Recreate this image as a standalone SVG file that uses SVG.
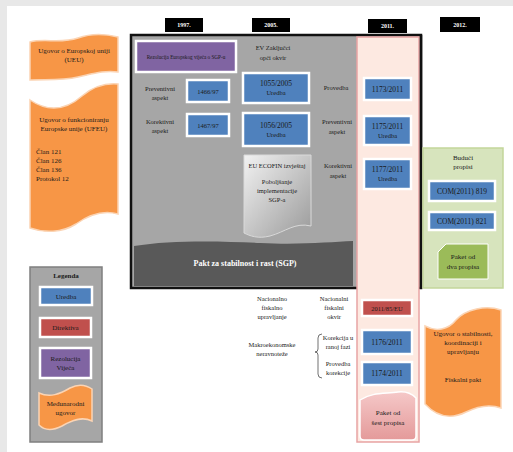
<svg xmlns="http://www.w3.org/2000/svg" width="513" height="452" viewBox="0 0 513 452">
<defs>
<style>
text{font-family:"Liberation Serif","DejaVu Serif",serif;font-size:6.5px;fill:#1a1a1a;text-anchor:middle}
.w{fill:#ffffff}
.yr{fill:#000}
.yt{fill:#fff;font-size:6px;font-weight:bold}
.bt{font-size:7.5px}
.blue{fill:#4f81bd;stroke:#ffffff;stroke-width:2.5}
.red{fill:#c0504d;stroke:#ffffff;stroke-width:2.5}
.purple{fill:#8064a2;stroke:#ffffff;stroke-width:2.5}
.orange{fill:#f79646;stroke:#fbd4b4;stroke-width:1.5}
.o{font-size:7px}
</style>
<linearGradient id="doc" x1="0" y1="0" x2="1" y2="1">
<stop offset="0" stop-color="#f2f2f2"/><stop offset="1" stop-color="#9a9a9a"/>
</linearGradient>
<linearGradient id="pinkg" x1="0" y1="0" x2="0" y2="1">
<stop offset="0" stop-color="#f5c8c8"/><stop offset="1" stop-color="#e49a9a"/>
</linearGradient>
</defs>
<rect x="0" y="0" width="513" height="452" fill="#e8e8e8"/>
<rect x="7" y="6" width="506" height="446" fill="#ffffff"/>

<g id="years">
<rect class="yr" x="165" y="18" width="38" height="14"/><text class="yt" x="184" y="27">1997.</text>
<rect class="yr" x="252" y="18" width="38" height="14"/><text class="yt" x="271" y="27">2005.</text>
<rect class="yr" x="368" y="19" width="39" height="14"/><text class="yt" x="387.5" y="28">2011.</text>
<rect class="yr" x="440" y="17" width="40" height="15"/><text class="yt" x="460" y="26.5">2012.</text>
</g>

<g id="main-box">
<rect x="131" y="35" width="290" height="253" fill="#a6a6a6" stroke="#111" stroke-width="2.5"/>
</g>

<g id="six-pack-column">
<rect x="357" y="37" width="62" height="405" fill="#fde9e1" stroke="#e8a4a4" stroke-width="1.5"/>
<line x1="421" y1="35" x2="421" y2="289" stroke="#111" stroke-width="2.5"/>
</g>

<g id="sgp-band">
<path d="M134,246 C170,240 220,241 260,243 C300,245 330,242 353,241 L353,286 L134,286 Z" fill="#595959"/>
<text class="w" x="245" y="266" style="font-size:8px;font-weight:bold">Pakt za stabilnost i rast (SGP)</text>
</g>

<g id="resolution">
<rect class="purple" x="136" y="41" width="100" height="31"/>
<text x="186" y="58.5" style="font-size:5.2px">Rezolucija Europskog vijeća o SGP-u</text>
</g>

<g id="ev-label">
<text x="273" y="50">EV Zaključci</text>
<text x="273" y="60">opći okvir</text>
</g>

<g id="r1466">
<rect class="blue" x="187" y="80" width="42" height="22"/>
<text x="208" y="93.5">1466/97</text>
<text x="160" y="91">Preventivni</text><text x="160" y="100">aspekt</text>
</g>
<g id="r1467">
<rect class="blue" x="187" y="114" width="42" height="22"/>
<text x="208" y="127.5">1467/97</text>
<text x="160" y="124">Korektivni</text><text x="160" y="133">aspekt</text>
</g>

<g id="r1055">
<rect class="blue" x="243" y="73" width="66" height="30"/>
<text class="bt" x="276" y="86">1055/2005</text><text x="276" y="95">Uredba</text>
</g>
<g id="r1056">
<rect class="blue" x="243" y="113" width="66" height="33"/>
<text class="bt" x="276" y="128">1056/2005</text><text x="276" y="137">Uredba</text>
</g>

<g id="ecofin">
<path d="M244,155 L311,155 L311,226 C295,222 285,232 270,236 C258,239 250,236 244,233 Z" fill="url(#doc)" stroke="#d9d9d9" stroke-width="1"/>
<text x="277" y="168">EU ECOFIN izvještaj</text>
<text x="277" y="184">Poboljšanje</text>
<text x="277" y="193">implementacije</text>
<text x="277" y="202">SGP-a</text>
</g>

<g id="labels-2011">
<text x="336" y="90">Provedba</text>
<text x="337" y="124">Preventivni</text><text x="337" y="134">aspekt</text>
<text x="338" y="168">Korektivni</text><text x="338" y="178">aspekt</text>
</g>

<g id="r1173">
<rect class="blue" x="364" y="78" width="47" height="22"/>
<text class="bt" x="387.5" y="91.5">1173/2011</text>
</g>
<g id="r1175">
<rect class="blue" x="364" y="116" width="47" height="29"/>
<text class="bt" x="387.5" y="129">1175/2011</text><text x="387.5" y="138">Uredba</text>
</g>
<g id="r1177">
<rect class="blue" x="364" y="159" width="47" height="30"/>
<text class="bt" x="387.5" y="172">1177/2011</text><text x="387.5" y="181">Uredba</text>
</g>

<g id="d201185">
<rect class="red" x="362" y="300" width="50" height="16"/>
<text x="387" y="310.5">2011/85/EU</text>
</g>
<g id="r1176">
<rect class="blue" x="362" y="330" width="50" height="24"/>
<text class="bt" x="387" y="344.5">1176/2011</text>
</g>
<g id="r1174">
<rect class="blue" x="362" y="362" width="50" height="23"/>
<text class="bt" x="387" y="376">1174/2011</text>
</g>
<g id="six-pack">
<path d="M360,400 C372,392 386,394 398,392 C406,391 412,394 416,398 L416,436 Q416,440 412,440 L364,440 Q360,440 360,436 Z" fill="url(#pinkg)" stroke="#ffffff" stroke-width="1.5"/>
<text class="o" x="388" y="415">Paket od</text><text class="o" x="388" y="425">šest propisa</text>
</g>

<g id="bottom-labels">
<text x="272" y="301">Nacionalno</text><text x="272" y="310">fiskalno</text><text x="272" y="319">upravljanje</text>
<text x="334" y="301">Nacionalni</text><text x="334" y="310">fiskalni</text><text x="334" y="319">okvir</text>
<text x="272" y="347">Makroekonomske</text><text x="272" y="356">neravnoteže</text>
<text x="338" y="340">Korekcija u</text><text x="338" y="349">ranoj fazi</text>
<text x="338" y="366">Provedba</text><text x="338" y="375">korekcije</text>
</g>
<g id="connectors">
<path d="M322,334 Q318,334 318,338 L318,349 Q318,352 315,352 Q318,352 318,355 L318,374 Q318,378 322,378" fill="none" stroke="#333" stroke-width="0.7"/>
</g>

<g id="two-pack">
<rect x="423" y="148" width="80" height="140" fill="#d7e4bd" stroke="#c3d69b" stroke-width="1.5"/>
<text class="o" x="463" y="160">Budući</text><text class="o" x="463" y="169">propisi</text>
<rect class="blue" x="429" y="181" width="66" height="20"/>
<text class="bt" x="462" y="193.5">COM(2011) 819</text>
<rect class="blue" x="429" y="212" width="66" height="18"/>
<text class="bt" x="462" y="223.5">COM(2011) 821</text>
<path d="M446,244 L488,244 L488,279 L438,279 L438,252 Z" fill="#9bbb59" stroke="#ffffff" stroke-width="1"/>
<text class="o" x="463" y="259">Paket od</text><text class="o" x="463" y="269">dva propisa</text>
</g>

<g id="ueu">
<path d="M30,42 C45,38 60,44 78,38 C92,33 106,34 118,37 L118,72 C104,70 92,74 78,77 C60,81 44,79 30,80 Z" class="orange"/>
<text class="o" x="74" y="53">Ugovor o Europskoj uniji</text>
<text class="o" x="74" y="62">(UEU)</text>
</g>

<g id="ufeu">
<path d="M30,100 C48,112 66,110 82,96 C94,86 106,83 118,84 L118,214 C104,210 90,214 76,224 C62,233 44,233 30,228 Z" class="orange"/>
<text class="o" x="74" y="122">Ugovor o funkcioniranju</text>
<text class="o" x="74" y="131">Europske unije (UFEU)</text>
<text class="o" x="36" y="154" style="text-anchor:start">Član 121</text>
<text class="o" x="36" y="163" style="text-anchor:start">Član 126</text>
<text class="o" x="36" y="172" style="text-anchor:start">Član 136</text>
<text class="o" x="36" y="181" style="text-anchor:start">Protokol 12</text>
</g>

<g id="tscg">
<path d="M425,326 C436,332 448,330 456,320 C466,309 486,305 501,310 L501,408 C490,404 478,406 466,412 C452,419 438,418 425,404 Z" class="orange"/>
<text class="o" x="463" y="336">Ugovor o stabilnosti,</text>
<text class="o" x="463" y="345">koordinaciji i</text>
<text class="o" x="463" y="354">upravljanju</text>
<text class="o" x="463" y="382">Fiskalni pakt</text>
</g>

<g id="legend">
<rect x="30" y="267" width="72" height="175" fill="#a6a6a6" stroke="#7f7f7f" stroke-width="1.5"/>
<text class="o" x="66" y="278" style="font-weight:bold">Legenda</text>
<rect class="blue" x="40" y="287" width="52" height="18"/>
<text class="o" x="66" y="298.5">Uredba</text>
<rect class="red" x="40" y="318" width="51" height="19"/>
<text class="o" x="65.5" y="330">Direktiva</text>
<rect class="purple" x="40" y="348" width="51" height="30"/>
<text class="o" x="65.5" y="361">Rezolucija</text><text class="o" x="65.5" y="370">Vijeća</text>
<path d="M39,393 C50,398 60,394 70,388 C78,384 86,385 92,389 L92,421 C82,416 72,420 62,426 C52,431 44,430 39,425 Z" class="orange"/>
<text class="o" x="65.5" y="406">Međunarodni</text><text class="o" x="65.5" y="415">ugovor</text>
</g>
</svg>
